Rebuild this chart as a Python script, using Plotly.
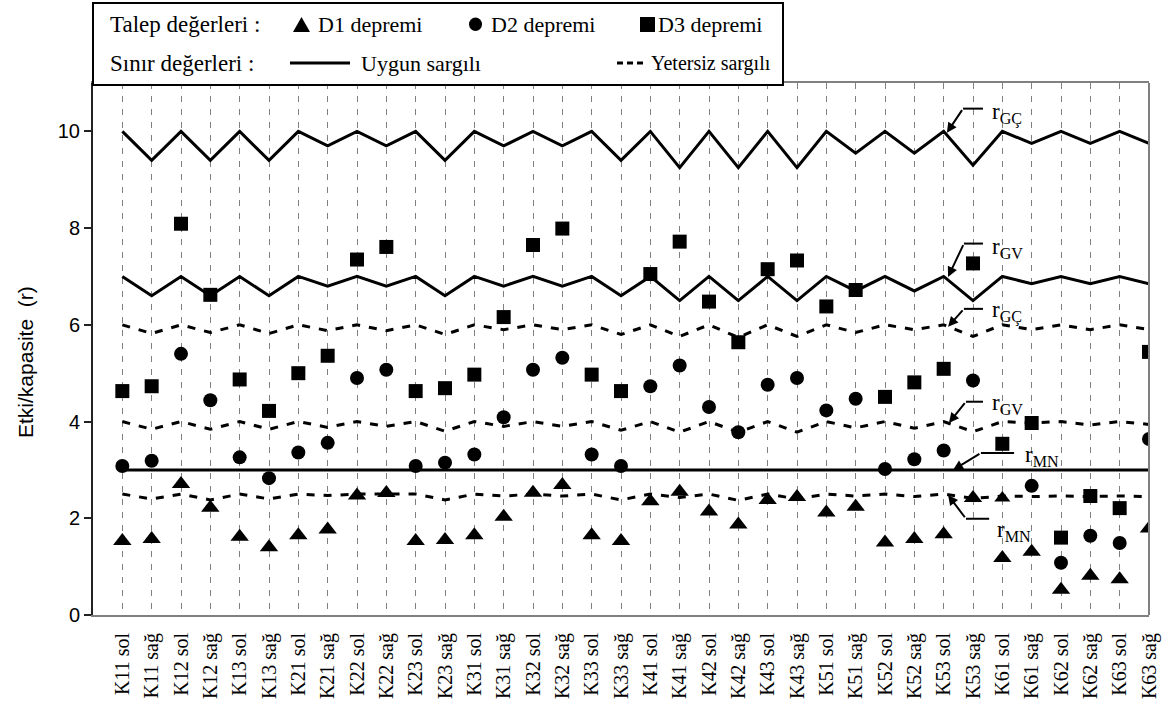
import plotly.graph_objects as go

columns = ["K11", "K12", "K13", "K21", "K22", "K23", "K31", "K32", "K33",
           "K41", "K42", "K43", "K51", "K52", "K53", "K61", "K62", "K63"]
sides = ["sol", "sağ"]
categories = [f"{c} {s}" for c in columns for s in sides]

# Talep değerleri (demand)
d1 = [1.53, 1.57, 2.71, 2.22, 1.62, 1.40, 1.65, 1.77, 2.47, 2.52, 1.53, 1.55,
      1.65, 2.03, 2.53, 2.69, 1.65, 1.53, 2.35, 2.55, 2.14, 1.87, 2.38, 2.44,
      2.12, 2.24, 1.50, 1.57, 1.67, 2.42, 1.18, 1.31, 0.52, 0.81, 0.74, 1.79]
d2 = [3.08, 3.19, 5.40, 4.44, 3.26, 2.83, 3.36, 3.56, 4.90, 5.07, 3.08, 3.15,
      3.32, 4.09, 5.07, 5.32, 3.32, 3.08, 4.73, 5.16, 4.30, 3.78, 4.76, 4.90,
      4.23, 4.47, 3.02, 3.22, 3.40, 4.85, 2.42, 2.67, 1.08, 1.64, 1.49, 3.64]
d3 = [4.63, 4.73, 8.09, 6.62, 4.87, 4.22, 5.00, 5.36, 7.35, 7.61, 4.63, 4.69,
      4.97, 6.16, 7.65, 7.99, 4.97, 4.63, 7.05, 7.72, 6.48, 5.64, 7.15, 7.33,
      6.38, 6.72, 4.51, 4.81, 5.09, 7.27, 3.54, 3.97, 1.60, 2.46, 2.21, 5.44]
# in the source the K61 sol D2 point is drawn with a triangle
d2_symbols = ["circle"] * 36
d2_symbols[30] = "triangle-up"

# Sınır değerleri (limits) - Uygun sargılı (solid)
gc_uygun = [10.0, 9.4, 10.0, 9.4, 10.0, 9.4, 10.0, 9.7, 10.0, 9.7, 10.0, 9.4,
            10.0, 9.7, 10.0, 9.7, 10.0, 9.4, 10.0, 9.25, 10.0, 9.25, 10.0, 9.25,
            10.0, 9.55, 10.0, 9.55, 10.0, 9.3, 10.0, 9.75, 10.0, 9.75, 10.0, 9.75]
gv_uygun = [7.0, 6.6, 7.0, 6.6, 7.0, 6.6, 7.0, 6.8, 7.0, 6.8, 7.0, 6.6,
            7.0, 6.8, 7.0, 6.8, 7.0, 6.6, 7.0, 6.5, 7.0, 6.5, 7.0, 6.5,
            7.0, 6.7, 7.0, 6.7, 7.0, 6.5, 7.0, 6.85, 7.0, 6.85, 7.0, 6.85]
mn_uygun = [3.0] * 36
# Yetersiz sargılı (dashed)
gc_yetersiz = [6.0, 5.82, 6.0, 5.84, 6.0, 5.82, 6.0, 5.88, 6.0, 5.88, 6.0, 5.8,
               6.0, 5.9, 6.0, 5.9, 6.0, 5.8, 6.0, 5.76, 6.0, 5.74, 6.0, 5.76,
               6.0, 5.84, 6.0, 5.9, 6.0, 5.76, 6.0, 5.9, 6.0, 5.9, 6.0, 5.9]
gv_yetersiz = [4.0, 3.84, 4.0, 3.84, 4.0, 3.84, 4.0, 3.88, 4.0, 3.9, 4.0, 3.8,
               4.0, 3.9, 4.0, 3.9, 4.0, 3.82, 4.0, 3.78, 4.0, 3.78, 4.0, 3.78,
               4.0, 3.87, 4.0, 3.86, 4.0, 3.79, 4.0, 3.97, 4.0, 3.93, 4.0, 3.94]
mn_yetersiz = [2.5, 2.4, 2.5, 2.38, 2.5, 2.4, 2.5, 2.47, 2.5, 2.5, 2.5, 2.38,
               2.5, 2.46, 2.5, 2.46, 2.5, 2.38, 2.5, 2.43, 2.5, 2.37, 2.5, 2.4,
               2.5, 2.46, 2.5, 2.45, 2.5, 2.41, 2.46, 2.45, 2.46, 2.45, 2.46, 2.45]

y_ticks = [0, 2, 4, 6, 8, 10]

SERIF = "Liberation Serif"
SANS = "Liberation Sans"

fig = go.Figure()
for vals in [gc_uygun, gv_uygun, mn_uygun]:
    fig.add_trace(go.Scatter(x=categories, y=vals, mode="lines",
                             line=dict(color="black", width=3), showlegend=False,
                             hoverinfo="skip"))
for vals in [gc_yetersiz, gv_yetersiz, mn_yetersiz]:
    fig.add_trace(go.Scatter(x=categories, y=vals, mode="lines",
                             line=dict(color="black", width=3, dash="8px,9px"),
                             showlegend=False, hoverinfo="skip"))

fig.add_trace(go.Scatter(x=categories, y=d1, mode="markers", name="D1 depremi",
                         marker=dict(symbol="triangle-up", size=16, color="black"),
                         showlegend=False))
fig.add_trace(go.Scatter(x=categories, y=d2, mode="markers", name="D2 depremi",
                         marker=dict(symbol=d2_symbols, size=14, color="black"),
                         showlegend=False))
fig.add_trace(go.Scatter(x=categories, y=d3, mode="markers", name="D3 depremi",
                         marker=dict(symbol="square", size=14, color="black"),
                         showlegend=False))

W, H = 1166, 702
L, R, T, B = 93, 17, 83, 87
PW, PH = W - L - R, H - T - B


def px(x):
    return (x - L) / PW


def py(y):
    return (H - B - y) / PH


shapes = []
annotations = []

# right border of plot
shapes.append(dict(type="line", xref="paper", yref="paper", x0=1, x1=1, y0=0, y1=1,
                   line=dict(color="#808080", width=2)))

# arrows with elbows: (head_x, head_y, elbow_x, elbow_y, end_x)
arrows = [
    (28.11, 9.97, 28.66, 10.47, 29.34),
    (28.15, 6.99, 28.69, 7.68, 29.34),
    (28.15, 5.96, 28.69, 6.33, 29.34),
    (28.18, 3.97, 28.76, 4.41, 29.34),
    (28.32, 3.00, 29.27, 3.35, 30.40),
    (28.15, 2.48, 28.76, 1.99, 29.55),
]
for hx, hy, ex, ey, endx in arrows:
    annotations.append(dict(x=hx, y=hy, xref="x", yref="y", ax=ex, ay=ey,
                            axref="x", ayref="y", text="", showarrow=True,
                            arrowhead=2, arrowsize=1, arrowwidth=2,
                            arrowcolor="black", standoff=0))
    shapes.append(dict(type="line", xref="x", yref="y", x0=ex, x1=endx, y0=ey, y1=ey,
                       line=dict(color="black", width=2)))

labels = [
    ("r<sub>GÇ</sub>", 29.61, 10.37),
    ("r<sub>GV</sub>", 29.61, 7.59),
    ("r<sub>GÇ</sub>", 29.61, 6.27),
    ("r<sub>GV</sub>", 29.61, 4.37),
    ("r<sub>MN</sub>", 30.74, 3.29),
    ("r<sub>MN</sub>", 29.79, 1.74),
]
for t, x, y in labels:
    annotations.append(dict(x=x, y=y, xref="x", yref="y", text=t, showarrow=False,
                            xanchor="left", yanchor="middle", borderpad=0,
                            font=dict(family=SERIF, size=23, color="black")))

# legend box
shapes.append(dict(type="rect", xref="paper", yref="paper", x0=px(93), x1=px(783),
                   y0=py(85), y1=py(3), line=dict(color="black", width=2),
                   fillcolor="white", layer="above"))
# legend symbols
shapes.append(dict(type="path", xref="paper", yref="paper",
                   path=f"M {px(293)},{py(32)} L {px(310)},{py(32)} L {px(301.5)},{py(17)} Z",
                   fillcolor="black", line=dict(color="black", width=0), layer="above"))
shapes.append(dict(type="circle", xref="paper", yref="paper", x0=px(469), x1=px(482),
                   y0=py(31), y1=py(17.5), fillcolor="black",
                   line=dict(color="black", width=0), layer="above"))
shapes.append(dict(type="rect", xref="paper", yref="paper", x0=px(640), x1=px(655),
                   y0=py(32), y1=py(17), fillcolor="black",
                   line=dict(color="black", width=0), layer="above"))
shapes.append(dict(type="line", xref="paper", yref="paper", x0=px(290), x1=px(350),
                   y0=py(63), y1=py(63), line=dict(color="black", width=3), layer="above"))
shapes.append(dict(type="line", xref="paper", yref="paper", x0=px(617), x1=px(647),
                   y0=py(63), y1=py(63), line=dict(color="black", width=3, dash="6px,4px"),
                   layer="above"))

legend_texts = [
    ("Talep değerleri :", 109, 24, 23),
    ("D1 depremi", 317, 24, 22),
    ("D2 depremi", 490, 24, 22),
    ("D3 depremi", 657, 24, 22),
    ("Sınır değerleri :", 109, 64, 23),
    ("Uygun sargılı", 360, 64, 22),
    ("Yetersiz sargılı", 650, 64, 20),
]
for t, x, y, s in legend_texts:
    annotations.append(dict(x=px(x), y=py(y), xref="paper", yref="paper", text=t,
                            showarrow=False, xanchor="left", yanchor="middle",
                            borderpad=0, font=dict(family=SERIF, size=s, color="black")))

# y-axis title
annotations.append(dict(x=px(25), y=py(362), xref="paper", yref="paper",
                        text="Etki/kapasite\u00a0\u00a0(r)", textangle=-90,
                        showarrow=False, xanchor="center", yanchor="middle",
                        font=dict(family=SANS, size=21, color="black")))

fig.update_layout(
    width=W, height=H,
    margin=dict(l=L, r=R, t=T, b=B, autoexpand=False),
    paper_bgcolor="white", plot_bgcolor="white",
    showlegend=False,
    shapes=shapes, annotations=annotations,
    xaxis=dict(type="category", categoryorder="array", categoryarray=categories,
               range=[-1, 35], showgrid=True, gridcolor="#808080", gridwidth=1,
               griddash="6px,7px", showline=True, linecolor="#808080", linewidth=2,
               mirror=True, ticks="", tickangle=-90, automargin=False,
               tickfont=dict(family=SERIF, size=20, color="black"),
               ticklabelstandoff=8, zeroline=False),
    yaxis=dict(range=[0, 11], tickvals=y_ticks, showgrid=False, zeroline=False,
               showline=True, linecolor="#222222", linewidth=2, ticks="outside",
               ticklen=7, tickwidth=1.5, tickcolor="#222222", automargin=False,
               tickfont=dict(family=SANS, size=20, color="black")),
)

fig.write_html("out.html", config={"displayModeBar": False},
               post_script="document.body.style.margin='0';"
                           "document.body.style.overflow='hidden';")
